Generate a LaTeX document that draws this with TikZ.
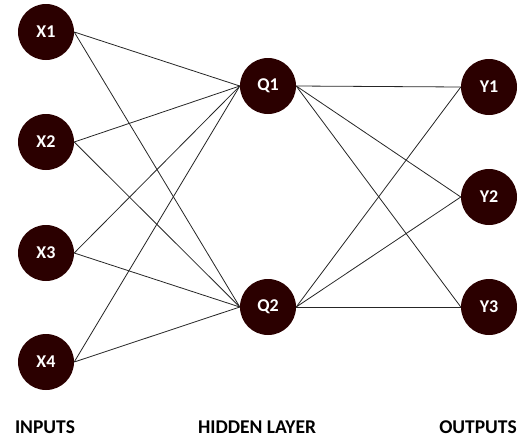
\documentclass[tikz,border=0pt]{standalone}
\usepackage{fontspec}
\setmainfont{Carlito}
\begin{document}
\begin{tikzpicture}[x=1pt,y=-1pt,
  neuron/.style={circle,fill=nodecol,minimum size=56pt,inner sep=0pt,text=white,font=\bfseries\fontsize{18}{18}\selectfont},
  link/.style={draw=black!85,line width=0.8pt},
  caption/.style={font=\bfseries\fontsize{19.5}{19.5}\selectfont,text=black}]
\definecolor{nodecol}{HTML}{2B0000}
\useasboundingbox (0,0) rectangle (526,442);
\node[neuron] (x1) at (46,32) {X1};
\node[neuron] (x2) at (46,142) {X2};
\node[neuron] (x3) at (46,253) {X3};
\node[neuron] (x4) at (46,362) {X4};
\node[neuron] (q1) at (268,86) {Q1};
\node[neuron] (q2) at (268,307) {Q2};
\node[neuron] (y1) at (489,87) {Y1};
\node[neuron] (y2) at (489,197) {Y2};
\node[neuron] (y3) at (489,307) {Y3};
\foreach \a in {x1,x2,x3,x4}{
  \foreach \b in {q1,q2}{
    \draw[link] (\a.east) -- (\b.west);
  }
}
\foreach \a in {q1,q2}{
  \foreach \b in {y1,y2,y3}{
    \draw[link] (\a.east) -- (\b.west);
  }
}
\node[caption] (lin) at (45,427) {INPUTS};
\node[caption] (lhid) at (257,427) {HIDDEN LAYER};
\node[caption] (lout) at (478,427) {OUTPUTS};
\end{tikzpicture}
\end{document}
